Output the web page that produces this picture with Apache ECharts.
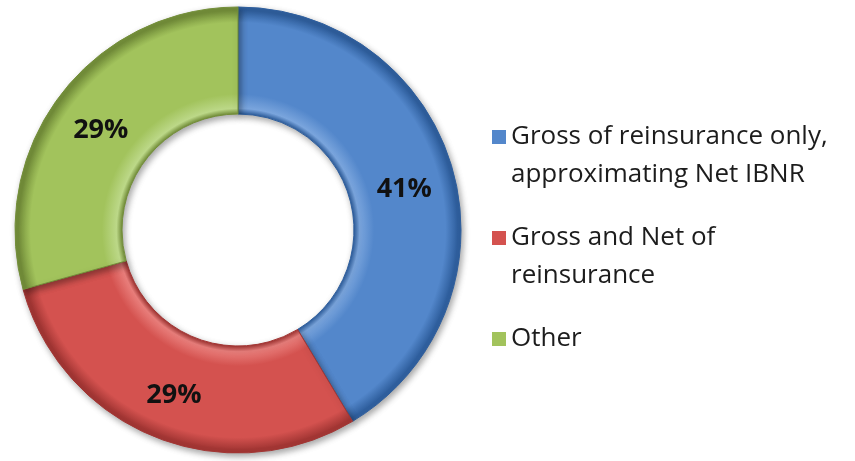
<!DOCTYPE html>
<html>
<head>
<meta charset="utf-8">
<script src="https://cdn.jsdelivr.net/npm/echarts@6/dist/echarts.min.js"></script>
<style>
  html, body { margin: 0; padding: 0; background: #ffffff; }
  #chart { width: 855px; height: 461px; }
</style>
</head>
<body>
<div id="chart"></div>
<script>
// Share of approaches (percent)
const categories = [
  'Gross of reinsurance only,\napproximating Net IBNR',
  'Gross and Net of\nreinsurance',
  'Other'
];
const shares = [41, 29, 29];
const baseColors = ['#5387CB', '#D4524F', '#A2C35C'];
const rimColors = ['#2F5F9E', '#A33634', '#748F3A'];
const lightColors = ['#7AA5DD', '#E97E7B', '#BCD888'];

const CX = 238, CY = 230, R_OUT = 223, R_IN = 116;
const inner = R_IN / R_OUT;

// Ring shading: light inner lip, flat body, darker outer rim
function ringFill(i) {
  return new echarts.graphic.RadialGradient(CX, CY, R_OUT, [
    { offset: inner, color: rimColors[i] },
    { offset: inner + 0.025, color: lightColors[i] },
    { offset: inner + 0.09, color: baseColors[i] },
    { offset: 0.93, color: baseColors[i] },
    { offset: 0.985, color: rimColors[i] },
    { offset: 1, color: rimColors[i] }
  ], true);
}

// Square swatch pinned to the top of a tall box, so it sits beside the first text line
const TOP_SWATCH = 'path://M0,0H10V10H0Z M0,36.99H0.001V37H0Z';

const chart = echarts.init(document.getElementById('chart'), null, { renderer: 'canvas' });

const legendText = { fontFamily: 'Open Sans', fontSize: 26, color: '#1c1c1c', lineHeight: 38 };
function legendFor(i, top, twoLines) {
  return {
    orient: 'vertical',
    left: 487,
    top: top,
    itemWidth: 14,
    itemHeight: twoLines ? 52 : 14,
    icon: twoLines ? TOP_SWATCH : 'rect',
    selectedMode: false,
    textStyle: legendText,
    data: [{
      name: categories[i],
      itemStyle: { color: baseColors[i], borderWidth: 0 }
    }]
  };
}

chart.setOption({
  animation: false,
  backgroundColor: '#ffffff',
  legend: [
    legendFor(0, 113, true),
    legendFor(1, 214, true),
    legendFor(2, 315, false)
  ],
  series: [{
    type: 'pie',
    center: [CX, CY],
    radius: [R_IN, R_OUT],
    startAngle: 90,
    clockwise: true,
    silent: true,
    data: categories.map((name, i) => ({
      name: name,
      value: shares[i],
      itemStyle: {
        color: ringFill(i),
        borderColor: rimColors[i],
        borderWidth: 1,
        shadowBlur: 6,
        shadowOffsetX: 2,
        shadowOffsetY: 3,
        shadowColor: 'rgba(0,0,0,0.35)'
      }
    })),
    label: {
      show: true,
      position: 'inside',
      formatter: '{v|{c}%}',
      rich: {
        v: {
          fontFamily: 'Open Sans',
          fontWeight: 'bold',
          fontSize: 27,
          color: '#111111',
          padding: [10, 0, 0, 0]
        }
      }
    },
    labelLine: { show: false },
    emphasis: { disabled: true }
  }]
});
</script>
</body>
</html>
